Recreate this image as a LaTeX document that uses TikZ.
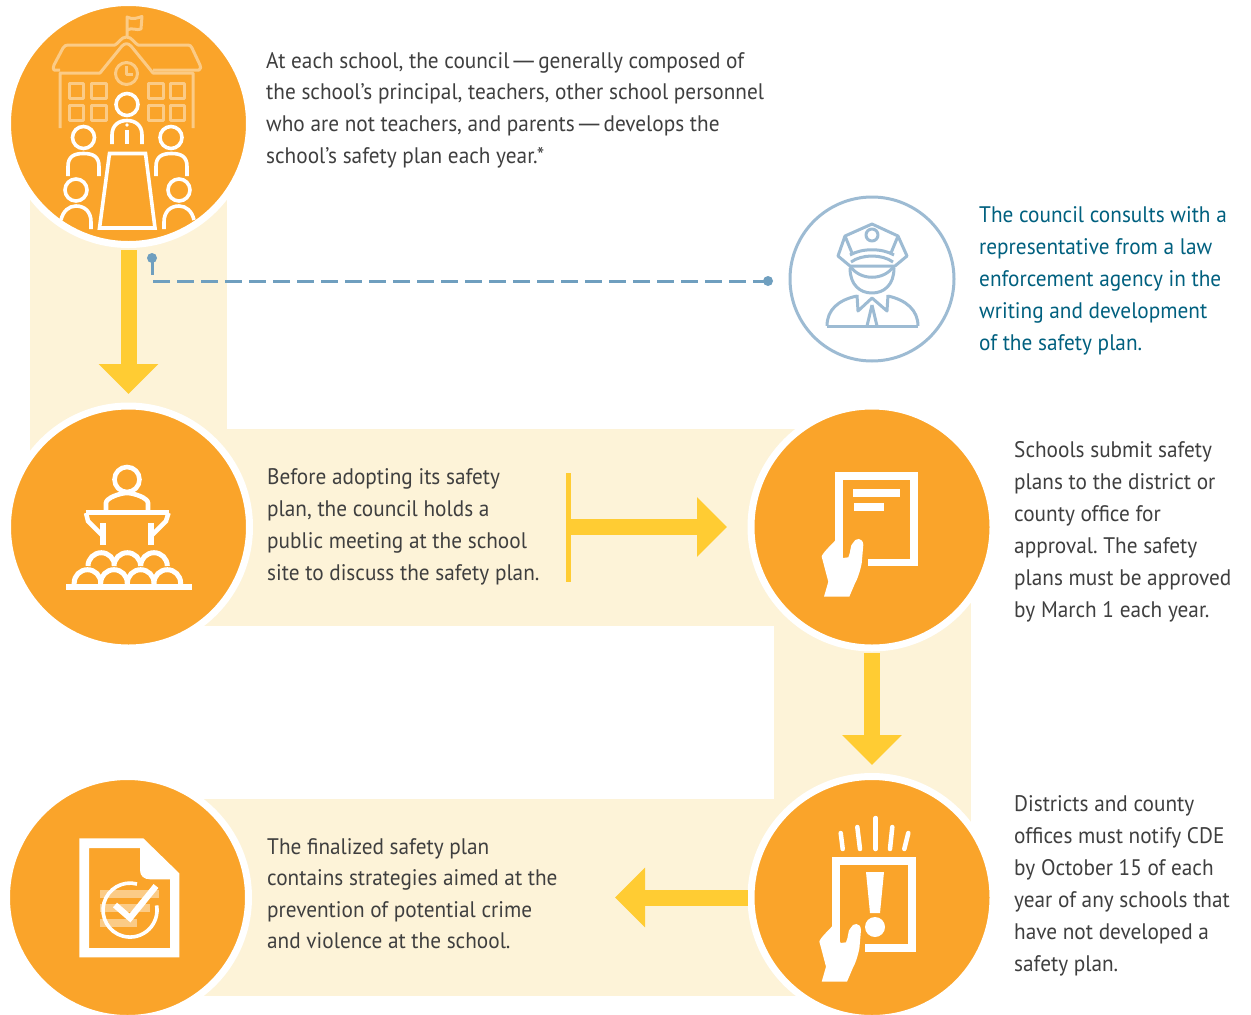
\documentclass[tikz,border=0pt]{standalone}
\usepackage{fontspec}
\setmainfont[FakeStretch=0.945]{PT Sans}
\usetikzlibrary{arrows.meta}
\definecolor{orangefill}{HTML}{FAA42A}
\definecolor{bandpale}{HTML}{FDF3D8}
\definecolor{gold}{HTML}{FFCC33}
\definecolor{iconpale}{HTML}{FBCB86}
\definecolor{steel}{HTML}{9DBBD3}
\definecolor{pinblue}{HTML}{6F9FBF}
\definecolor{bodytext}{HTML}{3F3F3F}
\definecolor{tealtext}{HTML}{00607F}
\newcommand{\longdash}{\scalebox{1.65}[1]{—}}
\tikzset{
  disc/.style={circle,fill=orangefill,draw=white,line width=7pt,minimum size=242pt,inner sep=0pt},
  ringdisc/.style={circle,draw=steel,line width=3pt,minimum size=164pt,inner sep=0pt},
  blurb/.style={anchor=north west,inner sep=0pt,align=left,text=bodytext,font=\fontsize{22.5}{32}\selectfont\frenchspacing},
  tightblurb/.style={blurb,font=\fontsize{22.5}{31.6}\selectfont\frenchspacing},
  blueblurb/.style={blurb,text=tealtext},
  fat/.style={draw=gold,line width=16pt,-{Triangle[length=30pt,width=58pt]}},
  dashlink/.style={draw=pinblue,line width=3pt,dash pattern=on 17pt off 7pt},
  paleline/.style={draw=iconpale,line width=3pt},
  whiteline/.style={draw=white,line width=3.6pt},
  podline/.style={draw=white,line width=4.6pt},
  archline/.style={draw=white,line width=5pt,fill=orangefill},
  capline/.style={draw=steel,line width=3pt,line join=round},
}
\newcommand{\personicon}[5]{% head x,y; left x, right x, bottom y
  \draw[whiteline] (#1,#2) circle[radius=11];
  \draw[whiteline] (#3,#5) -- (#3,{#2+29}) .. controls (#3,{#2+19}) and ({#3+6},{#2+16}) .. ({(#3+#4)/2},{#2+16}) .. controls ({#4-6},{#2+16}) and (#4,{#2+19}) .. (#4,{#2+29}) -- (#4,#5);
}
\newcommand{\handicon}{%
  \fill[white] (824,596.7) -- (828.3,581.7) -- (821.7,556.7)
    .. controls (821.7,554) and (830,546) .. (835,540.7) -- (843,558) -- (848.3,557.3)
    .. controls (851,552) and (850,545) .. (852.7,543.3) .. controls (855,537.5) and (863,537) .. (863.3,545)
    -- (861.7,563.3) .. controls (860,572) and (857,580) .. (855,583.3) -- (849.3,596.7) -- cycle;
}
\begin{document}
\begin{tikzpicture}[x=1pt,y=-1pt]
\useasboundingbox (0,0) rectangle (1251,1015);
\fill[white] (0,0) rectangle (1251,1015);
% bands
\fill[bandpale] (30,124) rectangle (227,527);
\fill[bandpale] (128,429) rectangle (872,626);
\fill[bandpale] (774,527) rectangle (971,897);
\fill[bandpale] (128,799) rectangle (872,996);
% discs
\node[disc] (school) at (128.5,123.5) {};
\node[disc] (meeting) at (128.5,527) {};
\node[disc] (submit) at (872,527) {};
\node[disc] (notify) at (872,897.5) {};
\node[disc] (final) at (127.5,897.5) {};
\node[ringdisc] (officer) at (872,279) {};
% arrows
\draw[fat,shorten <=2pt,shorten >=8.5pt] (school.south) -- (meeting.north);
\coordinate (barmid) at (568,527);
\draw[fat,shorten >=20.5pt] (barmid) -- (submit.west);
\draw[draw=gold,line width=5pt] (568,473) -- (568,582);
\draw[fat,shorten <=1.5pt,shorten >=8pt] (submit.south) -- (notify.north);
\coordinate (finalarrow) at (615,897.5);
\draw[fat] (notify.west) -- (finalarrow);
% dashed link
\coordinate (pinA) at (152,258);
\coordinate (pinB) at (768,281);
\draw[dashlink] (pinA) |- (pinB);
\fill[pinblue] (pinA) circle[radius=5];
\fill[pinblue] (pinB) circle[radius=5];
% school icon
\begin{scope}[paleline,line join=round]
  \draw (127,36) -- (127,17) .. controls (133,20) and (137,18) .. (142,16.5) -- (141,29) .. controls (137,31) and (132,27) .. (127,30);
  \draw (60,70) -- (54,70) .. controls (53,69) and (53,67) .. (54,65) -- (63,48) .. controls (64,46) and (66,45) .. (68,45) -- (115,45) .. controls (119,43) and (121,37) .. (126.5,37) .. controls (132,37) and (134,43) .. (138,45) -- (188,45) .. controls (190,45) and (191,46) .. (192,48) -- (200,65) .. controls (201,67) and (201,69) .. (199,70) -- (153,70);
  \draw (60,128) -- (60,73) -- (100,73) -- (122,46) .. controls (125,43) and (128,43) .. (131,46) -- (153,73) -- (193,73) -- (193,128);
  \draw (126.5,73.5) circle[radius=11];
  \draw (126.5,66) -- (126.5,74.5) -- (133,74.5);
  \draw (69,83.5) rectangle (83,98);
  \draw (91,83.5) rectangle (106,98);
  \draw (148,83.5) rectangle (163,98);
  \draw (170,83.5) rectangle (184,98);
  \draw (69,105.5) rectangle (83,120);
  \draw (91,105.5) rectangle (106,120);
  \draw (148,105.5) rectangle (163,120);
  \draw (170,105.5) rectangle (184,120);
\end{scope}
% council people
\draw[whiteline] (127,104.5) circle[radius=11];
\draw[whiteline] (112,144) -- (112,135) .. controls (112,125) and (119,120.5) .. (127,120.5) .. controls (135,120.5) and (142,125) .. (142,135) -- (142,144);
\draw[draw=white,line width=3.4pt] (127,130) -- (127,144);
\fill[white] (127,125) circle[radius=1.8];
\personicon{83.5}{137.5}{68}{99}{176}
\personicon{171}{137.5}{156}{187}{176}
\draw[whiteline] (76,190) circle[radius=11];
\draw[whiteline] (61,220) .. controls (63,211) and (69,206) .. (76,206) .. controls (85,206) and (91,212) .. (91,222) -- (91,229);
\draw[whiteline] (179,190) circle[radius=11];
\draw[whiteline] (164,229) -- (164,222) .. controls (164,212) and (170,206) .. (179,206) .. controls (186,206) and (192,211) .. (194,220);
\draw[whiteline,line join=miter] (109.5,153.5) -- (145.5,153.5) -- (155,228) -- (99.5,228) -- cycle;
% officer icon
\begin{scope}[capline]
  \draw (872,224) -- (898,236) -- (907,256) -- (895,266) -- (850,266) -- (838,256) -- (845,236) -- cycle;
  \draw (872,235) circle[radius=6];
  \draw (845,236) -- (852,253) (898,236) -- (891,253);
  \draw (850,255) .. controls (862,248) and (882,248) .. (894,255);
  \draw (851,262) .. controls (862,254) and (882,254) .. (893,262);
  \draw (850,266) .. controls (860,281) and (884,281) .. (894,266);
  \draw (850,268) .. controls (850,285) and (860,293) .. (872,293) .. controls (884,293) and (894,285) .. (894,268);
  \draw (827,326) -- (918,326);
  \draw (827,326) .. controls (827,310) and (838,300) .. (857,296);
  \draw (918,326) .. controls (918,310) and (906,300) .. (888,296);
  \draw (857,295) -- (858,311) -- (872,298) -- (887,311) -- (888,295);
  \draw (872,305) -- (867,326) (872,305) -- (877,326);
\end{scope}
% podium icon
\begin{scope}[podline,line join=miter]
  \draw (127,479.5) circle[radius=12.5];
  \draw (106,510) -- (106,503) .. controls (106,498) and (120,493) .. (127,493) .. controls (134,493) and (148,498) .. (148,503) -- (148,510);
  \draw (85.5,512.5) -- (169,512.5);
  \draw (86,513) -- (88,521) -- (102,535);
  \draw (168.5,513) -- (166,521) -- (152,535);
  \draw[line width=5.5pt] (103,523) -- (103,545);
  \draw[line width=5.5pt] (151,523) -- (151,545);
\end{scope}
\draw[archline] (88,566) arc[start angle=180,end angle=360,radius=13.3];
\draw[archline] (114,566) arc[start angle=180,end angle=360,radius=13.3];
\draw[archline] (140.7,566) arc[start angle=180,end angle=360,radius=13.3];
\draw[archline] (74.2,584) -- (74.2,583) arc[start angle=180,end angle=360,radius=13.3] -- (100.8,584);
\draw[archline] (100.7,584) -- (100.7,583) arc[start angle=180,end angle=360,radius=13.3] -- (127.3,584);
\draw[archline] (127.4,584) -- (127.4,583) arc[start angle=180,end angle=360,radius=13.3] -- (154,584);
\draw[archline] (154,584) -- (154,583) arc[start angle=180,end angle=360,radius=13.3] -- (180.6,584);
\fill[white] (66,584) rectangle (192,590);
% submit icon
\draw[draw=white,line width=7.8pt,line join=miter] (839,558) -- (839,475.8) -- (914,475.8) -- (914,562.5) -- (868,562.5);
\fill[white] (853,489) rectangle (900,497);
\fill[white] (854,503) rectangle (884,511);
\handicon
% notify icon
\draw[draw=white,line width=7.8pt,line join=miter] (836,943) -- (836,861) -- (912,861) -- (912,948) -- (865,948);
\fill[white] (866,872) -- (884,872) -- (880,913) -- (870,913) -- cycle;
\fill[white] (875,927) circle[radius=10];
\begin{scope}[draw=white,line width=4.5pt,line cap=round]
  \draw (842.7,849) -- (840.7,833);
  \draw (860,849) -- (857.3,827);
  \draw (875.7,849) -- (875.7,818);
  \draw (890,849) -- (892.3,827);
  \draw (904.3,849) -- (908.3,833);
\end{scope}
\begin{scope}[shift={(-2.3,385)}]\handicon\end{scope}
% final doc icon
\fill[white,even odd rule] (79.3,838.3) -- (143.3,838.3) -- (179.3,873.3) -- (179.3,957.3) -- (79.3,957.3) -- cycle
  (89,848) -- (140,848) -- (140,870) .. controls (140,876) and (144,879.3) .. (150,879.3) -- (170,879.3) -- (170,948) -- (89,948) -- cycle;
\fill[iconpale] (100,890) rectangle (159.3,897.7);
\fill[iconpale] (100,904) rectangle (150,911.7);
\fill[iconpale] (100,919) rectangle (137.3,926.7);
\draw[whiteline] (137,884) arc[start angle=-75,end angle=-370,radius=27];
\draw[draw=white,line width=6.2pt,line join=miter] (115,905) -- (130,918) -- (156,886);
% texts
\node[tightblurb] (t1) at (266,52) {At each school, the council\longdash generally composed of\\the school’s principal, teachers, other school personnel\\who are not teachers, and parents\longdash develops the\\school’s safety plan each year.*};
\node[blueblurb] (t2) at (979,206) {The council consults with a\\representative from a law\\enforcement agency in the\\writing and development\\of the safety plan.};
\node[blurb] (t3) at (267,468) {Before adopting its safety\\plan, the council holds a\\public meeting at the school\\site to discuss the safety plan.};
\node[blurb] (t4) at (1014,441) {Schools submit safety\\plans to the district or\\county office for\\approval. The safety\\plans must be approved\\by March 1 each year.};
\node[blurb] (t5) at (1014,795) {Districts and county\\offices must notify CDE\\by October 15 of each\\year of any schools that\\have not developed a\\safety plan.};
\node[tightblurb] (t6) at (267,838) {The finalized safety plan\\contains strategies aimed at the\\prevention of potential crime\\and violence at the school.};
\end{tikzpicture}
\end{document}
